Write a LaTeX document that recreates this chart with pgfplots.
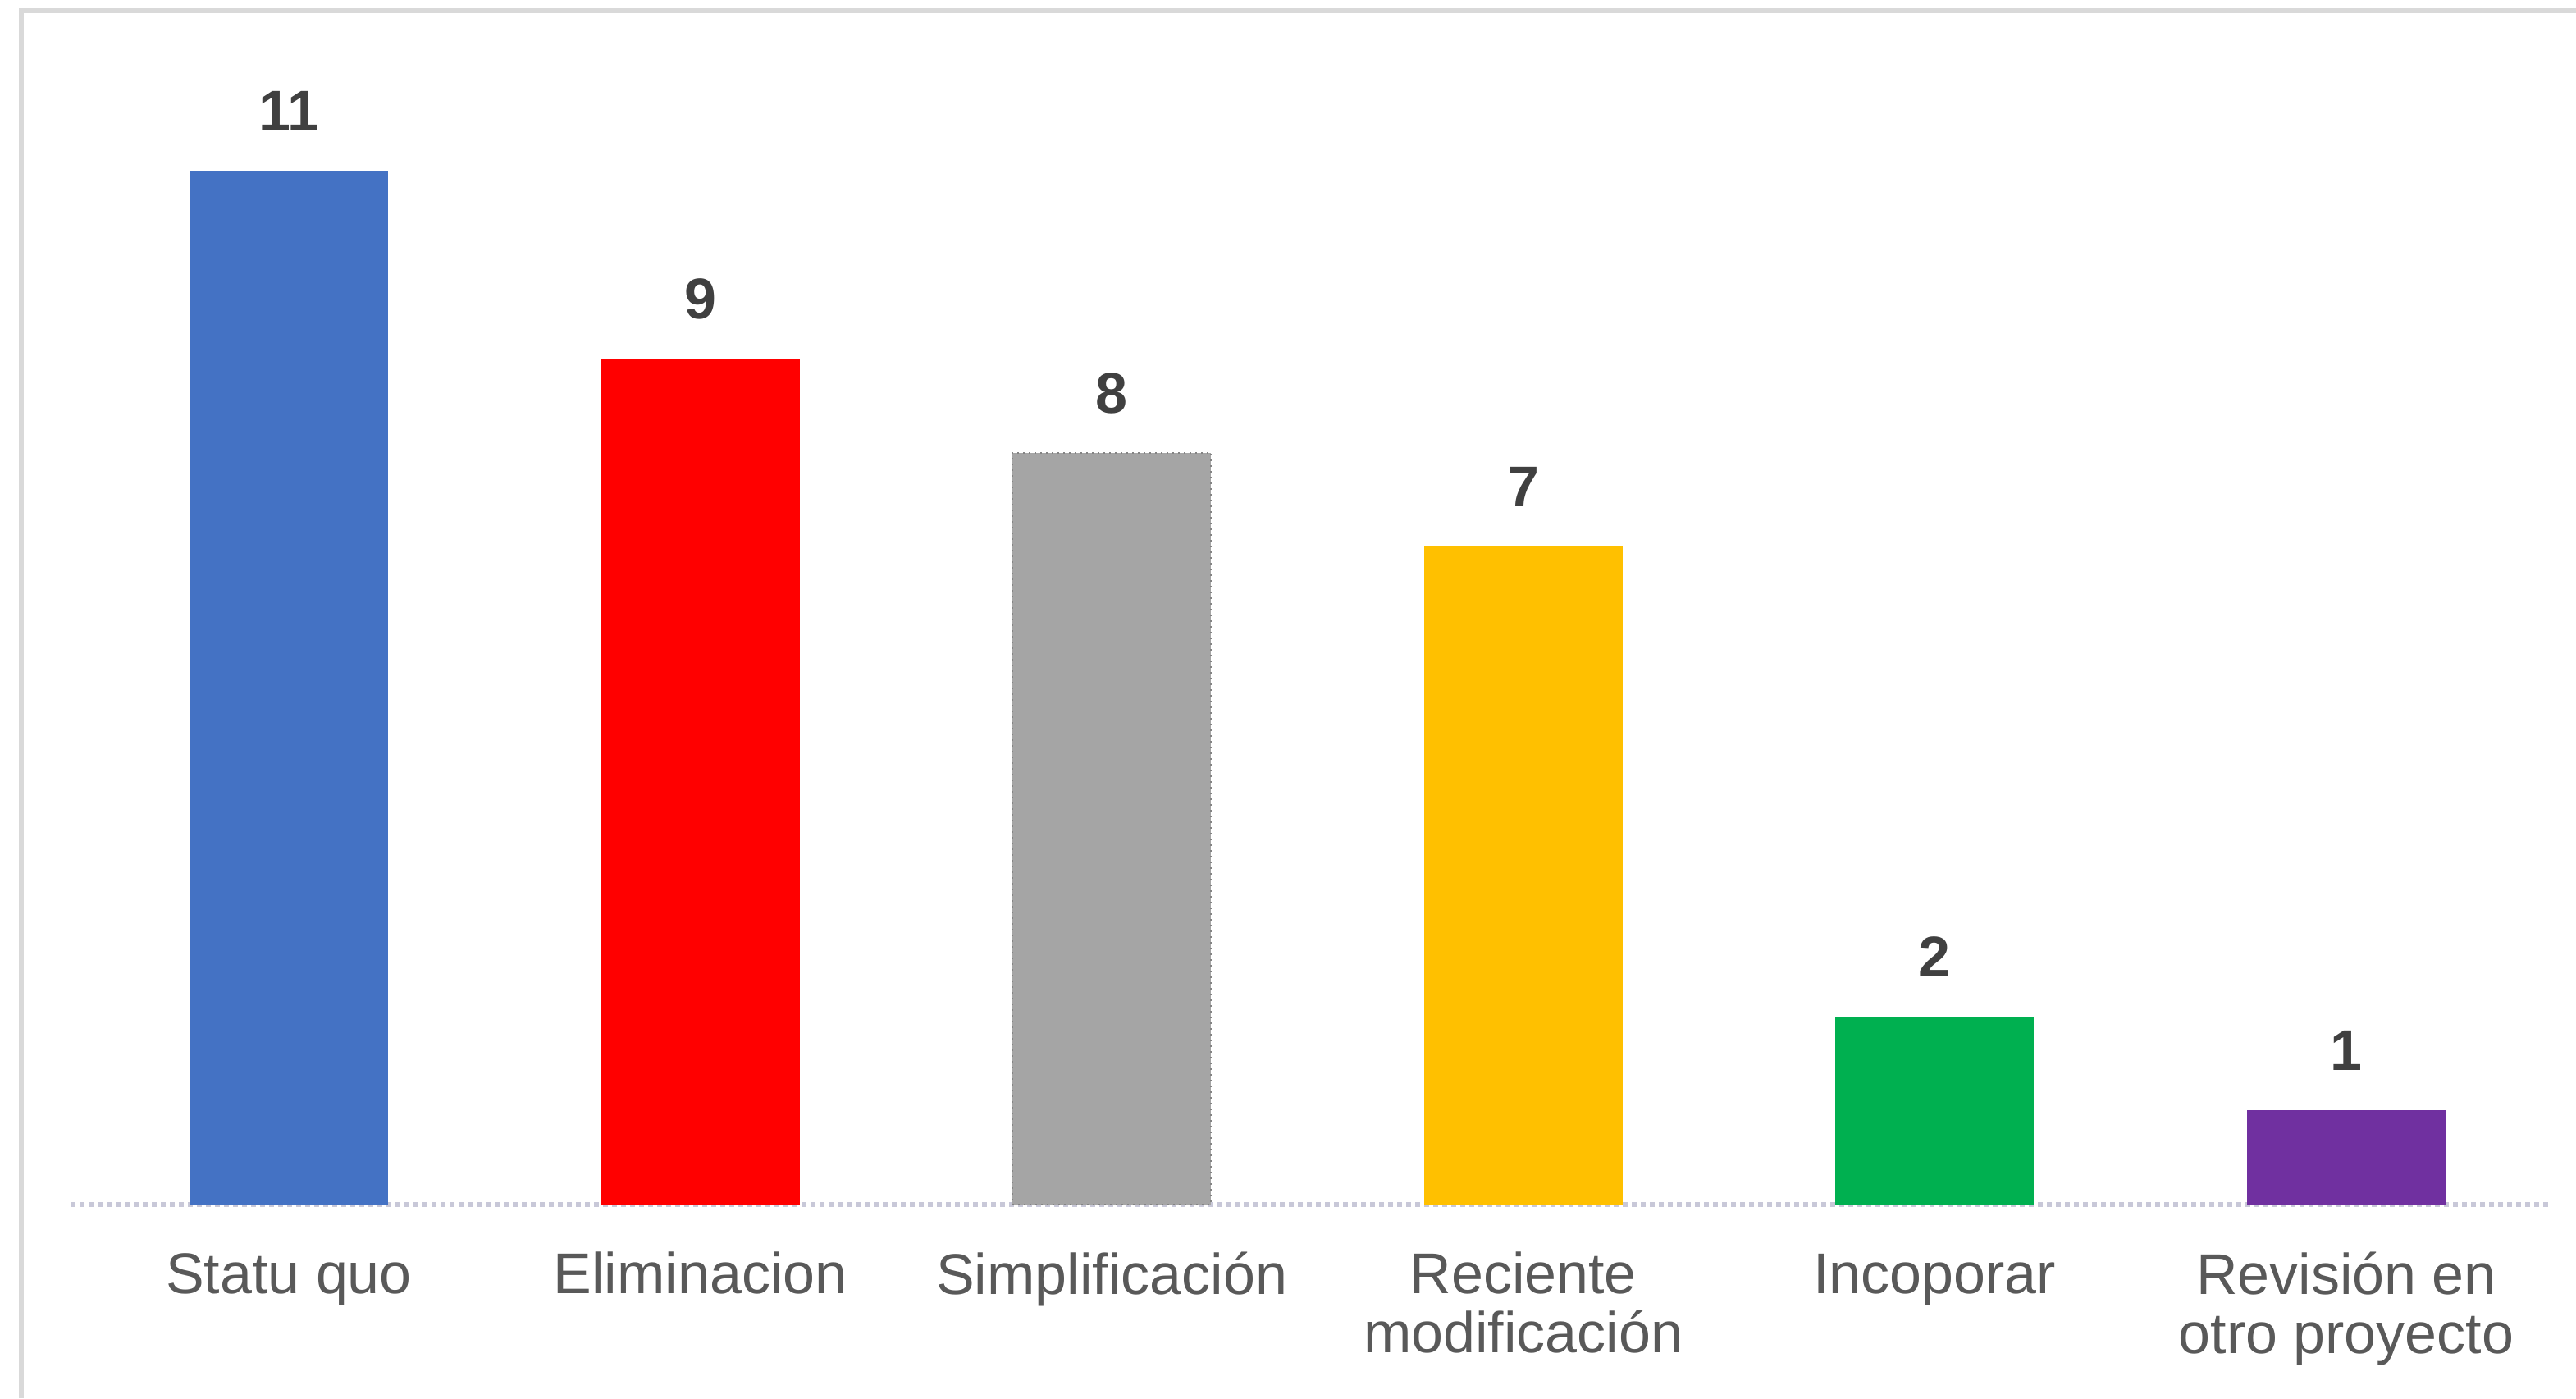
\documentclass[border=0pt]{standalone}
\usepackage{fontspec}
\setmainfont{Liberation Sans}
\usepackage{pgfplots}
\pgfplotsset{compat=1.18}
\definecolor{cblue}{HTML}{4472C4}
\definecolor{cred}{HTML}{FF0000}
\definecolor{cgray}{HTML}{A5A5A5}
\definecolor{cyellow}{HTML}{FFC000}
\definecolor{cgreen}{HTML}{00B050}
\definecolor{cpurple}{HTML}{7030A0}
\definecolor{framegray}{HTML}{D9D9D9}
\definecolor{linegray}{HTML}{C8C8D8}
\definecolor{numgray}{HTML}{404040}
\definecolor{labgray}{HTML}{595959}
\begin{document}
\lineskiplimit=-100pt
\begin{tikzpicture}
\useasboundingbox (-17.24pt,-47.2pt) rectangle (610.76pt,293.6pt);
\begin{axis}[
  at={(0pt,0pt)}, anchor=south west,
  scale only axis, width=604.9pt, height=274.9pt,
  ybar, bar width=0.4825, bar shift=0pt,
  xmin=-0.53, xmax=5.5, ymin=0, ymax=12,
  axis x line*=bottom, axis y line=none,
  x axis line style={draw=linegray, line width=1.2pt, densely dotted},
  xtick={0,1,2,3,4,5},
  xticklabels={Statu quo, Eliminacion, Simplificación, {Reciente\\modificación}, Incoporar, {Revisión en\\otro proyecto}},
  ytick=\empty,
  major tick length=0pt,
  typeset ticklabels with strut,
  xticklabel style={font=\fontsize{14}{14.4}\selectfont, text=labgray, align=center, anchor=north, inner sep=0pt, yshift=-11.4pt},
  /pgf/number format/assume math mode=true,
  nodes near coords,
  every node near coord/.append style={font=\fontsize{14}{16}\selectfont\bfseries, text=numgray, anchor=base, inner sep=0pt, yshift=9.7pt},
  clip=false,
]
\addplot[fill=cblue, draw=none] coordinates {(0,11)};
\addplot[fill=cred, draw=none] coordinates {(1,9)};
\addplot[fill=cgray, draw=cgray!80!black, densely dotted, line width=0.4pt] coordinates {(2,8)};
\addplot[fill=cyellow, draw=none] coordinates {(3,7)};
\addplot[fill=cgreen, draw=none] coordinates {(4,2)};
\addplot[fill=cpurple, draw=none] coordinates {(5,1)};
\end{axis}
\draw[color=framegray, line width=1.2pt] (-12.04pt,-47.2pt) -- (-12.04pt,291.0pt) -- (610.76pt,291.0pt);
\end{tikzpicture}
\end{document}
